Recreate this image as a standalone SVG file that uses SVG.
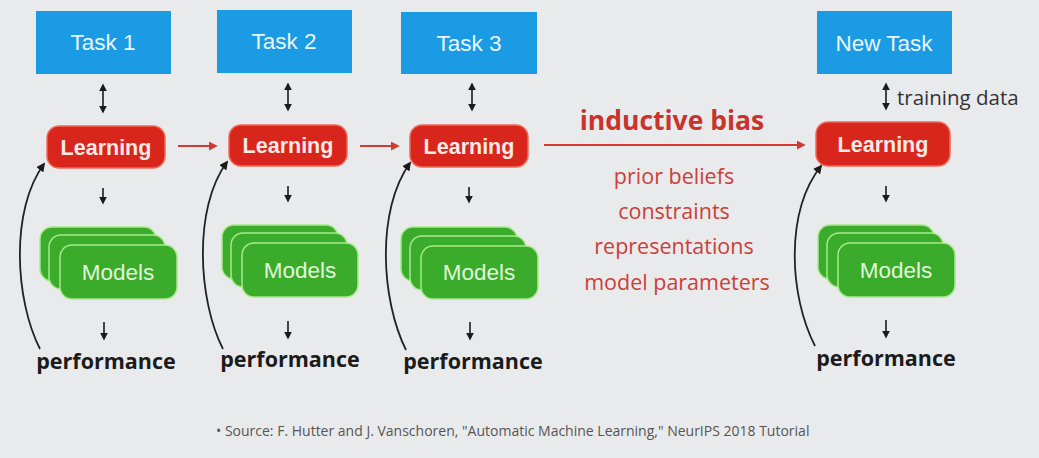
<svg xmlns="http://www.w3.org/2000/svg" width="1039" height="458" viewBox="0 0 1039 458">
<style>
.task{fill:#1a9be3}
.tt{font-family:"Liberation Sans",Arial,sans-serif;font-size:22.5px;fill:#eaf6ff;text-anchor:middle}
.learn{fill:#d9261d;stroke:#f06a5a;stroke-width:1.5}
.lt{font-family:"Liberation Sans",Arial,sans-serif;font-size:21.5px;font-weight:bold;fill:#fbe9e6;text-anchor:middle}
.mod{fill:#3aab2a;stroke:#a8ea8c;stroke-width:1.5}
.mt{font-family:"Liberation Sans",Arial,sans-serif;font-size:22.5px;fill:#e3f7dc;text-anchor:middle}
.perf{font-family:"Open Sans","Liberation Sans",sans-serif;font-size:21.5px;font-weight:bold;fill:#1b1b1b;text-anchor:middle}
.blk{stroke:#1b1b1b;stroke-width:1.6;fill:none}
.red{stroke:#d33a32;stroke-width:1.8;fill:none}
.curve{stroke:#222;stroke-width:1.8;fill:none}
.ib{font-family:"Open Sans","Liberation Sans",sans-serif;font-size:26.5px;font-weight:bold;fill:#c8332b;text-anchor:middle}
.lst{font-family:"Open Sans","Liberation Sans",sans-serif;font-size:21.5px;fill:#c9403a;text-anchor:middle}
.td{font-family:"Open Sans","Liberation Sans",sans-serif;font-size:20.5px;fill:#333;}
.src{font-family:"Open Sans","Liberation Sans",sans-serif;font-size:14px;fill:#555}
</style>
<defs>
<marker id="ab" viewBox="0 0 10 10" refX="8" refY="5" markerWidth="5" markerHeight="5" orient="auto-start-reverse"><path d="M0,0 L10,5 L0,10 z" fill="#1b1b1b"/></marker>
<marker id="ar" viewBox="0 0 10 10" refX="8" refY="5" markerWidth="5" markerHeight="5" orient="auto"><path d="M0,0 L10,5 L0,10 z" fill="#d33a32"/></marker>
</defs>
<rect width="1039" height="458" fill="#e9eaec"/>

<g id="task1"><rect class="task" x="36" y="11" width="135" height="63"/><text class="tt" x="103" y="50">Task 1</text></g>
<g id="task2"><rect class="task" x="217" y="10" width="135" height="63"/><text class="tt" x="284" y="49">Task 2</text></g>
<g id="task3"><rect class="task" x="401" y="12" width="136" height="62"/><text class="tt" x="469" y="51">Task 3</text></g>
<g id="task4"><rect class="task" x="817" y="11" width="135" height="63"/><text class="tt" x="884" y="51">New Task</text></g>

<g id="learn1"><rect class="learn" x="47" y="126" width="118" height="42" rx="12"/><text class="lt" x="106" y="155">Learning</text></g>
<g id="learn2"><rect class="learn" x="229" y="125" width="118" height="41" rx="12"/><text class="lt" x="288" y="153">Learning</text></g>
<g id="learn3"><rect class="learn" x="410" y="125" width="118" height="42" rx="12"/><text class="lt" x="469" y="154">Learning</text></g>
<g id="learn4"><rect class="learn" x="816" y="122" width="134" height="44" rx="12"/><text class="lt" x="883" y="152">Learning</text></g>

<g id="models1">
<rect class="mod" x="40" y="227" width="116" height="54" rx="12"/>
<rect class="mod" x="49" y="235" width="116" height="54" rx="12"/>
<rect class="mod" x="60" y="245" width="117" height="54" rx="12"/>
<text class="mt" x="118" y="280">Models</text></g>
<g id="models2">
<rect class="mod" x="222" y="225" width="116" height="54" rx="12"/>
<rect class="mod" x="231" y="233" width="116" height="54" rx="12"/>
<rect class="mod" x="242" y="243" width="116" height="54" rx="12"/>
<text class="mt" x="300" y="278">Models</text></g>
<g id="models3">
<rect class="mod" x="401" y="227" width="116" height="54" rx="12"/>
<rect class="mod" x="410" y="236" width="116" height="54" rx="12"/>
<rect class="mod" x="421" y="246" width="117" height="53" rx="12"/>
<text class="mt" x="479" y="280">Models</text></g>
<g id="models4">
<rect class="mod" x="818" y="225" width="116" height="54" rx="12"/>
<rect class="mod" x="827" y="233" width="116" height="54" rx="12"/>
<rect class="mod" x="838" y="243" width="117" height="54" rx="12"/>
<text class="mt" x="896" y="278">Models</text></g>

<g id="perf1"><text class="perf" x="106" y="369">performance</text></g>
<g id="perf2"><text class="perf" x="290" y="367">performance</text></g>
<g id="perf3"><text class="perf" x="473" y="369">performance</text></g>
<g id="perf4"><text class="perf" x="886" y="366">performance</text></g>

<g id="bias">
<text class="ib" x="672" y="130">inductive bias</text>
<text class="lst" x="674" y="184">prior beliefs</text>
<text class="lst" x="674" y="219">constraints</text>
<text class="lst" x="674" y="254">representations</text>
<text class="lst" x="677" y="290">model parameters</text>
</g>
<g id="tdata"><text class="td" x="897" y="105">training data</text></g>
<g id="source"><text class="src" x="216" y="436">•  Source: F. Hutter and J. Vanschoren, "Automatic Machine Learning," NeurIPS 2018 Tutorial</text></g>

<g id="connectors">
<line class="blk" x1="103" y1="85" x2="103" y2="112" marker-start="url(#ab)" marker-end="url(#ab)"/>
<line class="blk" x1="288" y1="84" x2="288" y2="110" marker-start="url(#ab)" marker-end="url(#ab)"/>
<line class="blk" x1="472" y1="84" x2="472" y2="110" marker-start="url(#ab)" marker-end="url(#ab)"/>
<line class="blk" x1="886" y1="84" x2="886" y2="109" marker-start="url(#ab)" marker-end="url(#ab)"/>

<line class="blk" x1="103" y1="188" x2="103" y2="203" marker-end="url(#ab)"/>
<line class="blk" x1="288" y1="186" x2="288" y2="201" marker-end="url(#ab)"/>
<line class="blk" x1="469" y1="187" x2="469" y2="202" marker-end="url(#ab)"/>
<line class="blk" x1="886" y1="186" x2="886" y2="201" marker-end="url(#ab)"/>

<line class="blk" x1="104" y1="322" x2="104" y2="339" marker-end="url(#ab)"/>
<line class="blk" x1="288" y1="321" x2="288" y2="338" marker-end="url(#ab)"/>
<line class="blk" x1="470" y1="322" x2="470" y2="339" marker-end="url(#ab)"/>
<line class="blk" x1="886" y1="320" x2="886" y2="337" marker-end="url(#ab)"/>

<line class="red" x1="178" y1="146" x2="216" y2="146" marker-end="url(#ar)"/>
<line class="red" x1="360" y1="146" x2="398" y2="146" marker-end="url(#ar)"/>
<line class="red" x1="544" y1="145" x2="804" y2="145" marker-end="url(#ar)"/>

<path class="curve" d="M40,349 C15,300 10,210 44,164" marker-end="url(#ab)"/>
<path class="curve" d="M223,349 C198,300 193,208 227,162" marker-end="url(#ab)"/>
<path class="curve" d="M406,350 C381,300 376,210 410,163" marker-end="url(#ab)"/>
<path class="curve" d="M815,346 C789,295 785,212 821,166" marker-end="url(#ab)"/>
</g>
</svg>
